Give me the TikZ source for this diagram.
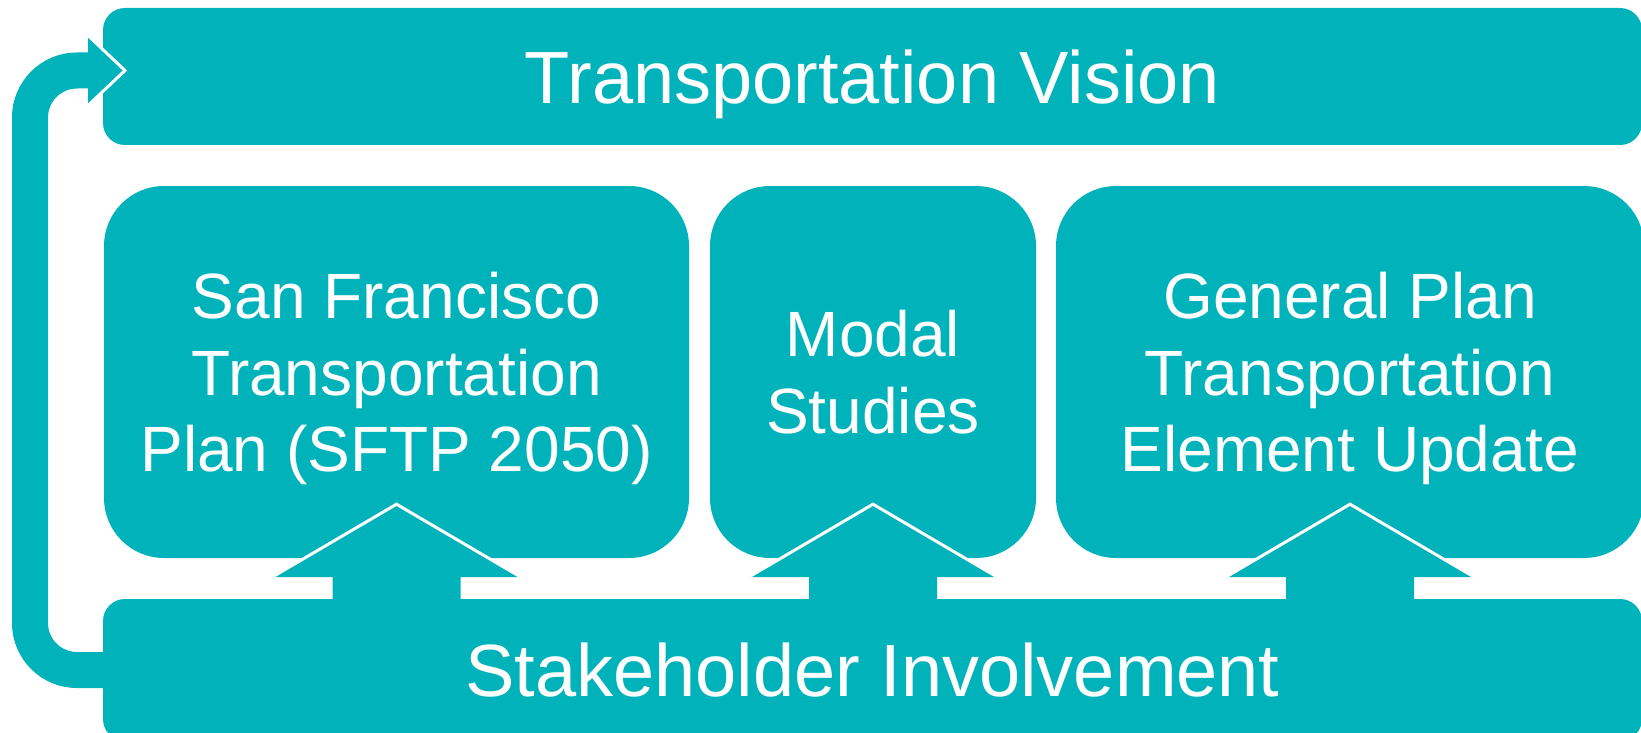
\documentclass[tikz,border=0pt]{standalone}
\usepackage{fontspec}
\setmainfont{Liberation Sans}
\definecolor{sfteal}{RGB}{0,179,187}
\begin{document}
\begin{tikzpicture}[x=1pt,y=-1pt,
  bar/.style={fill=sfteal, text=white, inner sep=0pt, rounded corners=22pt, minimum width=1539pt, font=\fontsize{74}{89}\selectfont, text depth=0pt},
  panel/.style={fill=sfteal, text=white, inner sep=0pt, rounded corners=60pt, minimum height=372pt, align=center, font=\fontsize{64}{76.5}\selectfont, text depth=0pt}]
\useasboundingbox (0,0) rectangle (1641,733);
\node[bar, minimum height=137pt] (vis) at (872.5,76.5) {Transportation Vision};
\node[bar, minimum height=142pt] (stk) at (872.5,670) {Stakeholder Involvement};
\coordinate (back) at (88,70.5);
\draw[sfteal, line width=36pt, rounded corners=47pt] ([xshift=4pt]stk.west) -| (30,70.5) -- (back);
\fill[sfteal] (back) ++(0,-35) -- ++(37,35) -- ++(-37,35) -- cycle;
\draw[white, line width=3pt] (back) ++(0,-35) -- ++(37,35) -- ++(-37,35);
\node[panel, minimum width=585pt] (sftp) at (396.5,372) {San Francisco\\Transportation\\Plan (SFTP 2050)};
\node[panel, minimum width=326pt] (modal) at (873,372) {Modal\\Studies};
\node[panel, minimum width=588pt] (gpte) at (1350,372) {General Plan\\Transportation\\Element Update};
\foreach \b in {sftp,modal,gpte}{
  \fill[sfteal] (\b.south) ++(-64,47) -- ++(0,-28) -- ++(-60.5,0) -- ++(124.5,-73) -- ++(124.5,73) -- ++(-60.5,0) -- ++(0,28) -- cycle;
  \draw[white, line width=3pt] (\b.south) ++(-124.5,19) -- ++(124.5,-73) -- ++(124.5,73);
}
\end{tikzpicture}
\end{document}
